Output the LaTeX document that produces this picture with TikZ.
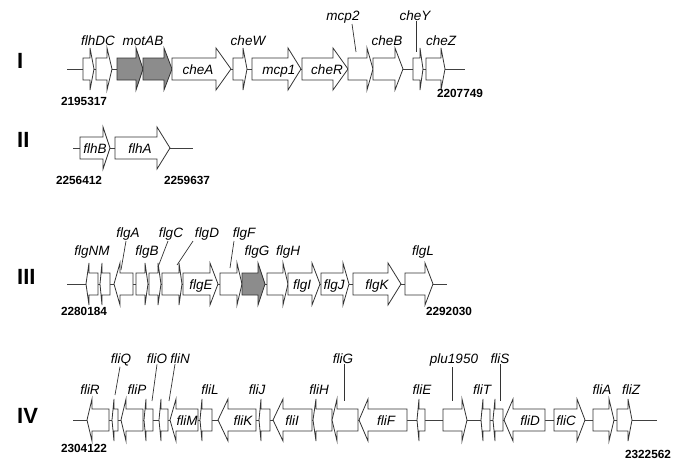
\documentclass[tikz,border=0pt]{standalone}
\usepackage{fontspec}
\setmainfont{Liberation Sans}
\usepackage{tikz}
\usetikzlibrary{positioning}

\definecolor{genegray}{RGB}{140,140,140}

% one gene: row y, back end, head base, tip
\newcommand{\genearrow}[5][white]{%
	\draw[genebox, fill=#1] (#3,#2-11) -- (#4,#2-11) -- (#4,#2-21) -- (#5,#2)
	-- (#4,#2+21) -- (#4,#2+11) -- (#3,#2+11) -- cycle;}

\begin{document}
\begin{tikzpicture}[
		x=1pt,
		y=-1pt,
		backbone/.style={draw=black!75, line width=0.8pt},
		genebox/.style={draw=black!80, line width=0.8pt},
		leader/.style={draw=black!80, line width=0.7pt},
		lab/.style={anchor=base, inner sep=1pt, font=\fontsize{13.5}{16}\selectfont\itshape},
		seqpos/.style={anchor=base, inner sep=0pt, font=\fontsize{11.8}{14}\selectfont\bfseries},
		rowname/.style={anchor=base west, inner sep=0pt, font=\fontsize{22}{26}\selectfont\bfseries}
		]
		\useasboundingbox (0,0) rectangle (685,474);
		
		% ---------- Cluster I ----------
		\node[rowname] (rowI) at (17,68) {I};
		\draw[backbone] (67,69) -- (465,69);
		\genearrow{69}{83}{90}{94}
		\genearrow{69}{96}{107}{112}
		\genearrow[genegray]{69}{117}{136}{143}
		\genearrow[genegray]{69}{143}{164}{172}
		\genearrow{69}{172}{216}{231}
		\genearrow{69}{233}{243}{247}
		\genearrow{69}{252}{288}{301}
		\genearrow{69}{302}{333}{348}
		\genearrow{69}{348}{367}{373}
		\genearrow{69}{373}{395}{403}
		\genearrow{69}{413}{420}{423}
		\genearrow{69}{426}{441}{445}
		
		\node[lab] (lflhDC) at (98,45) {flhDC};
		\node[lab] (lmotAB) at (143,45) {motAB};
		\node[lab] (lcheA) at (198,74) {cheA};
		\node[lab] (lcheW) at (248,45) {cheW};
		\node[lab] (lmcp1) at (279,74) {mcp1};
		\node[lab] (lcheR) at (327,74) {cheR};
		\node[lab] (lmcp2) at (343,20) {mcp2};
		\node[lab] (lcheB) at (387,45) {cheB};
		\node[lab] (lcheY) at (415,20) {cheY};
		\node[lab] (lcheZ) at (441,45) {cheZ};
		
		\coordinate (pmcp2) at (356,52);
		\coordinate (pcheY) at (416,52);
		\draw[leader] ([xshift=9pt]lmcp2.south) -- (pmcp2);
		\draw[leader] ([xshift=1pt]lcheY.south) -- (pcheY);
		
		\node[seqpos] (sI) at (84,105) {2195317};
		\node[seqpos] (eI) at (460,97) {2207749};
		
		% ---------- Cluster II ----------
		\node[rowname] (rowII) at (17,147) {II};
		\draw[backbone] (73,148) -- (193,148);
		\genearrow{148}{80}{103}{110}
		\genearrow{148}{115}{157}{170}
		
		\node[lab] (lflhB) at (95,153) {flhB};
		\node[lab] (lflhA) at (140,153) {flhA};
		
		\node[seqpos] (sII) at (79,184) {2256412};
		\node[seqpos] (eII) at (187,184) {2259637};
		
		% ---------- Cluster III ----------
		\node[rowname] (rowIII) at (17,284) {III};
		\draw[backbone] (67,284) -- (447,284);
		\genearrow{284}{98}{89}{86}
		\genearrow{284}{110}{102}{100}
		\genearrow{284}{133}{120}{114}
		\genearrow{284}{136}{145}{148}
		\genearrow{284}{149}{158}{161}
		\genearrow{284}{162}{179}{182}
		\genearrow{284}{183}{210}{218}
		\genearrow{284}{220}{237}{242}
		\genearrow[genegray]{284}{242}{258}{265}
		\genearrow{284}{267}{283}{288}
		\genearrow{284}{288}{312}{320}
		\genearrow{284}{321}{343}{349}
		\genearrow{284}{353}{388}{401}
		\genearrow{284}{405}{425}{433}
		
		\node[lab] (lflgNM) at (92,255) {flgNM};
		\node[lab] (lflgA) at (128,237) {flgA};
		\node[lab] (lflgB) at (147,255) {flgB};
		\node[lab] (lflgC) at (171,237) {flgC};
		\node[lab] (lflgD) at (207,237) {flgD};
		\node[lab] (lflgE) at (201,289) {flgE};
		\node[lab] (lflgF) at (244,237) {flgF};
		\node[lab] (lflgG) at (257,255) {flgG};
		\node[lab] (lflgH) at (288,255) {flgH};
		\node[lab] (lflgI) at (302,289) {flgI};
		\node[lab] (lflgJ) at (334,289) {flgJ};
		\node[lab] (lflgK) at (377,289) {flgK};
		\node[lab] (lflgL) at (423,255) {flgL};
		
		\coordinate (pflgA) at (121,270);
		\coordinate (pflgC) at (158,267);
		\coordinate (pflgD) at (177,265);
		\coordinate (pflgF) at (230,268);
		\draw[leader] ([xshift=-2pt]lflgA.south) -- (pflgA);
		\draw[leader] ([xshift=-3pt]lflgC.south) -- (pflgC);
		\draw[leader] ([xshift=-14pt]lflgD.south) -- (pflgD);
		\draw[leader] ([xshift=-10pt]lflgF.south) -- (pflgF);
		
		\node[seqpos] (sIII) at (84,315) {2280184};
		\node[seqpos] (eIII) at (449,315) {2292030};
		
		% ---------- Cluster IV ----------
		\node[rowname] (rowIV) at (17,423) {IV};
		\draw[backbone] (73,420) -- (657,420);
		\genearrow{420}{109}{92}{87}
		\genearrow{420}{118}{114}{112}
		\genearrow{420}{143}{126}{121}
		\genearrow{420}{153}{146}{144}
		\genearrow{420}{168}{161}{159}
		\genearrow{420}{198}{176}{170}
		\genearrow{420}{212}{202}{200}
		\genearrow{420}{256}{228}{218}
		\genearrow{420}{270}{261}{259}
		\genearrow{420}{312}{283}{273}
		\genearrow{420}{332}{316}{313}
		\genearrow{420}{358}{337}{332}
		\genearrow{420}{407}{368}{359}
		\genearrow{420}{425}{419}{417}
		\genearrow{420}{443}{462}{467}
		\genearrow{420}{490}{483}{481}
		\genearrow{420}{503}{495}{493}
		\genearrow{420}{545}{513}{504}
		\genearrow{420}{554}{577}{585}
		\genearrow{420}{593}{609}{614}
		\genearrow{420}{617}{628}{632}
		
		\node[lab] (lfliR) at (90,394) {fliR};
		\node[lab] (lfliQ) at (121,363) {fliQ};
		\node[lab] (lfliP) at (137,394) {fliP};
		\node[lab] (lfliO) at (157,363) {fliO};
		\node[lab] (lfliN) at (180,363) {fliN};
		\node[lab] (lfliM) at (187,425) {fliM};
		\node[lab] (lfliL) at (210,394) {fliL};
		\node[lab] (lfliK) at (243,425) {fliK};
		\node[lab] (lfliJ) at (257,394) {fliJ};
		\node[lab] (lfliI) at (292,425) {fliI};
		\node[lab] (lfliH) at (319,394) {fliH};
		\node[lab] (lfliG) at (343,363) {fliG};
		\node[lab] (lfliF) at (386,425) {fliF};
		\node[lab] (lfliE) at (422,394) {fliE};
		\node[lab] (lplu) at (454,363) {plu1950};
		\node[lab] (lfliT) at (482,394) {fliT};
		\node[lab] (lfliS) at (500,363) {fliS};
		\node[lab] (lfliD) at (530,425) {fliD};
		\node[lab] (lfliC) at (566,425) {fliC};
		\node[lab] (lfliA) at (602,394) {fliA};
		\node[lab] (lfliZ) at (631,394) {fliZ};
		
		\coordinate (pfliQ) at (115,395);
		\coordinate (pfliO) at (152,401);
		\coordinate (pfliN) at (169,401);
		\coordinate (pfliG) at (344,401);
		\coordinate (pplu) at (452,401);
		\coordinate (pfliS) at (500,401);
		\draw[leader] ([xshift=-1pt]lfliQ.south) -- (pfliQ);
		\draw[leader] (lfliO.south) -- (pfliO);
		\draw[leader] ([xshift=-5pt]lfliN.south) -- (pfliN);
		\draw[leader] ([xshift=1pt]lfliG.south) -- (pfliG);
		\draw[leader] ([xshift=-2pt]lplu.south) -- (pplu);
		\draw[leader] (lfliS.south) -- (pfliS);
		
		\node[seqpos] (sIV) at (84,452) {2304122};
		\node[seqpos] (eIV) at (648,458) {2322562};
	\end{tikzpicture}
\end{document}
